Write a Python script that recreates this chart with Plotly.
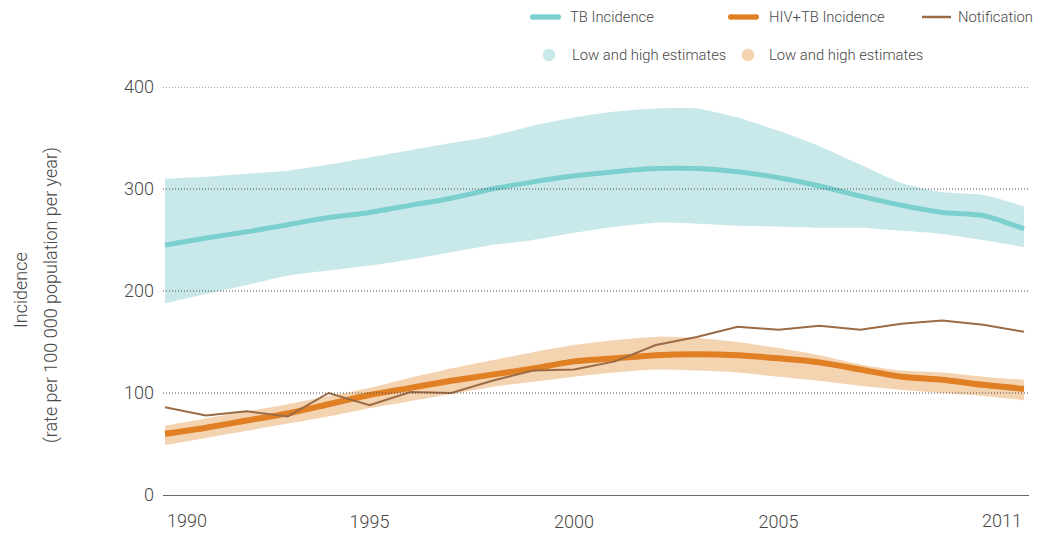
import plotly.graph_objects as go

years = list(range(1990, 2012))

tb_incidence = [245, 252, 258, 265, 272, 277, 284, 291, 300, 307, 313, 317, 320, 320, 317, 311, 303, 293, 284, 277, 274, 261]
tb_high = [310, 312, 315, 318, 324, 331, 338, 345, 352, 362, 370, 376, 379, 379, 370, 357, 342, 324, 306, 297, 294, 283]
tb_low = [188, 197, 206, 215, 220, 225, 231, 238, 245, 250, 257, 263, 267, 266, 264, 263, 262, 262, 259, 256, 250, 243]

hiv_incidence = [60, 66, 73, 80, 89, 98, 105, 112, 118, 124, 131, 134, 137, 138, 137, 134, 130, 123, 116, 113, 108, 104]
hiv_high = [68, 75, 82, 89, 97, 105, 115, 124, 132, 140, 147, 152, 155, 154, 150, 144, 137, 128, 122, 120, 116, 113]
hiv_low = [49, 56, 63, 70, 77, 85, 92, 99, 106, 111, 116, 120, 123, 122, 120, 116, 112, 107, 103, 100, 97, 93]

notification = [86, 78, 82, 77, 100, 88, 101, 100, 112, 122, 123, 131, 147, 155, 165, 162, 166, 162, 168, 171, 167, 160]

y_ticks = [0, 100, 200, 300, 400]
x_ticks_mid = [1995, 2000, 2005]

TEAL = "#7ccfcf"
TEAL_BAND = "#c9e8e9"
ORANGE = "#e07f24"
ORANGE_BAND = "#f4d3b0"
BROWN = "#9a6b45"
TXT = "#474747"
FONT = "Roboto, Liberation Sans, Arial, sans-serif"
WEIGHT = 300

fig = go.Figure()

# bands
fig.add_trace(go.Scatter(x=years, y=tb_low, mode="lines", line=dict(width=0, shape="spline", smoothing=0.6),
                         showlegend=False, hoverinfo="skip"))
fig.add_trace(go.Scatter(x=years, y=tb_high, mode="lines", line=dict(width=0, shape="spline", smoothing=0.6),
                         fill="tonexty", fillcolor=TEAL_BAND, showlegend=False, hoverinfo="skip"))
fig.add_trace(go.Scatter(x=years, y=hiv_low, mode="lines", line=dict(width=0, shape="spline", smoothing=0.6),
                         showlegend=False, hoverinfo="skip"))
fig.add_trace(go.Scatter(x=years, y=hiv_high, mode="lines", line=dict(width=0, shape="spline", smoothing=0.6),
                         fill="tonexty", fillcolor=ORANGE_BAND, showlegend=False, hoverinfo="skip"))

# lines
fig.add_trace(go.Scatter(x=years, y=tb_incidence, mode="lines", name="TB Incidence",
                         line=dict(color=TEAL, width=5, shape="spline", smoothing=0.6), showlegend=False))
fig.add_trace(go.Scatter(x=years, y=hiv_incidence, mode="lines", name="HIV+TB Incidence",
                         line=dict(color=ORANGE, width=6, shape="spline", smoothing=0.6), showlegend=False))
fig.add_trace(go.Scatter(x=years, y=notification, mode="lines", name="Notification",
                         line=dict(color=BROWN, width=2), showlegend=False))

L, R, T, B = 163, 8, 87, 38
W, H = 1037, 533
pw = W - L - R
ph = H - T - B


def px(xp):
    return (xp - L) / pw


def py(yp):
    return (H - B - yp) / ph


def tfont(size):
    return dict(family=FONT, size=size, color=TXT, weight=WEIGHT)


shapes = []
annotations = []

# dotted gridlines drawn above the bands
for v in y_ticks[1:]:
    shapes.append(dict(type="line", xref="paper", yref="y", x0=0, x1=1, y0=v, y1=v, layer="above",
                       line=dict(color="#4d4d4d", width=1, dash="1px,2px")))

LEG_SIZE = 14.8


def legend_line(x0, x1, y, color, width, text, tx, round_caps=True, anchor="left"):
    r = width / 2 if round_caps else 0
    shapes.append(dict(type="line", xref="paper", yref="paper", x0=px(x0 + r), x1=px(x1 - r), y0=py(y), y1=py(y),
                       line=dict(color=color, width=width)))
    if round_caps:
        for xc in (x0 + r, x1 - r):
            shapes.append(dict(type="circle", xref="paper", yref="paper", x0=px(xc - r), x1=px(xc + r),
                               y0=py(y + r), y1=py(y - r), fillcolor=color, line=dict(width=0)))
    annotations.append(dict(text=text, xref="paper", yref="paper", x=px(tx), y=py(y), xanchor=anchor,
                            yanchor="middle", showarrow=False, font=tfont(LEG_SIZE)))


def legend_dot(xc, y, color, text, tx):
    r = 6.2
    shapes.append(dict(type="circle", xref="paper", yref="paper", x0=px(xc - r), x1=px(xc + r),
                       y0=py(y + r), y1=py(y - r), fillcolor=color, line=dict(width=0)))
    annotations.append(dict(text=text, xref="paper", yref="paper", x=px(tx), y=py(y), xanchor="left",
                            yanchor="middle", showarrow=False, font=tfont(LEG_SIZE)))


legend_line(530, 561, 17, TEAL, 5.3, "TB Incidence", 568)
legend_line(728, 759, 17, ORANGE, 5.3, "HIV+TB Incidence", 767)
legend_line(922, 951, 17, BROWN, 2.5, "Notification", 1035, round_caps=False, anchor="right")
legend_dot(549, 55, TEAL_BAND, "Low and high estimates", 570)
legend_dot(748, 55, ORANGE_BAND, "Low and high estimates", 767)

# edge x labels anchored inward
annotations.append(dict(text=str(years[0]), xref="x", yref="paper", x=years[0], y=py(520), xanchor="left",
                        yanchor="middle", showarrow=False, font=tfont(18)))
annotations.append(dict(text=str(years[-1]), xref="x", yref="paper", x=years[-1], y=py(520), xanchor="right",
                        yanchor="middle", showarrow=False, font=tfont(18)))

# y-axis title
annotations.append(dict(text="Incidence", xref="paper", yref="paper", x=px(20), y=py(290), xanchor="center",
                        yanchor="middle", textangle=-90, showarrow=False, font=tfont(18)))
annotations.append(dict(text="(rate per 100 000 population per year)", xref="paper", yref="paper", x=px(51),
                        y=py(295), xanchor="center", yanchor="middle", textangle=-90, showarrow=False,
                        font=tfont(18)))

x_min = 1990 - 2 / 40.9
x_max = 2011 + 5 / 40.9

fig.update_layout(
    width=W, height=H,
    margin=dict(l=L, r=R, t=T, b=B, autoexpand=False),
    paper_bgcolor="white", plot_bgcolor="white",
    font=tfont(18),
    shapes=shapes, annotations=annotations,
    showlegend=False,
    hovermode=False,
    xaxis=dict(range=[x_min, x_max], tickvals=x_ticks_mid, ticktext=[str(v) for v in x_ticks_mid],
               showgrid=False, zeroline=False, showline=True, linecolor="#6b6b6b", linewidth=1,
               ticks="", ticklabelstandoff=10, tickfont=tfont(18), automargin=False),
    yaxis=dict(range=[0, 400], tickvals=y_ticks, showgrid=False, zeroline=False, showline=False, ticks="",
               ticklabelstandoff=8, tickfont=tfont(18), automargin=False),
)

fig.write_html("out.html", config={"displayModeBar": False},
               post_script="document.body.style.margin='0';document.body.style.overflow='hidden';")
